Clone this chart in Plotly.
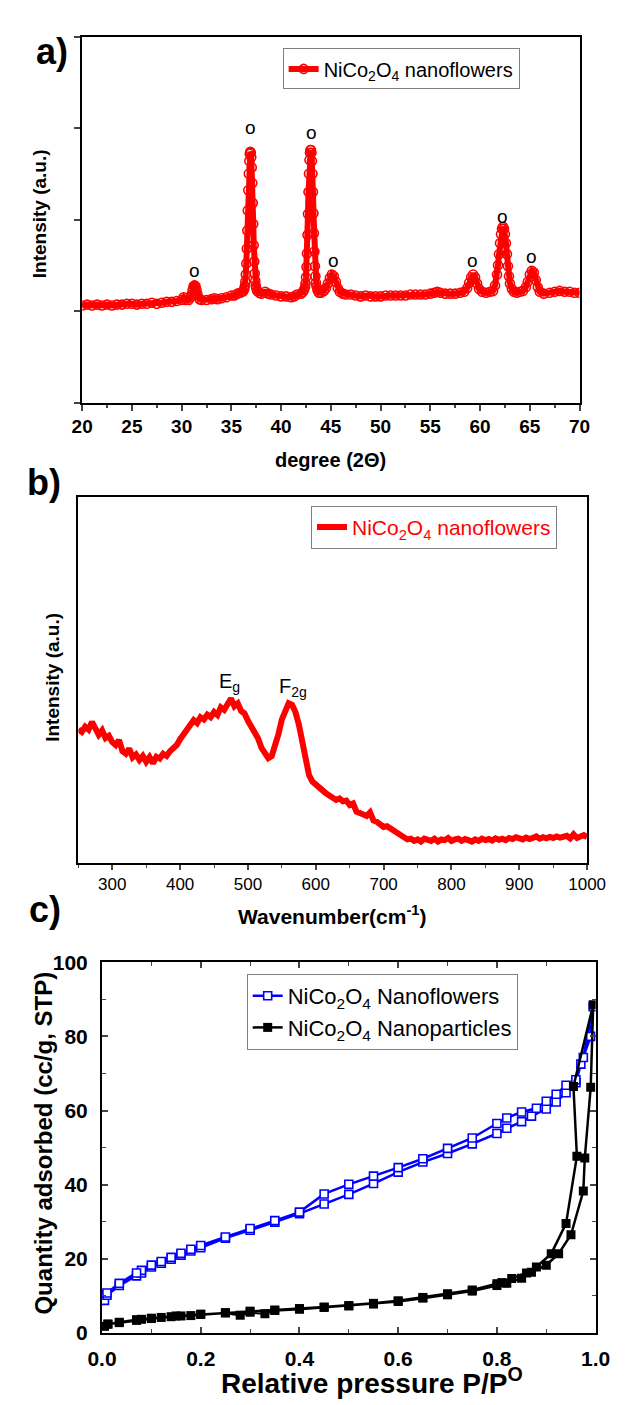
import plotly.graph_objects as go

# ---------------- (a) XRD pattern ----------------
xrd_2theta = [
    20.0, 20.5, 21.0, 21.5, 22.0, 22.5, 23.0, 23.5, 24.0, 24.5, 25.0, 25.5, 26.0, 26.5,
    27.0, 27.5, 28.0, 28.5, 29.0, 29.5, 30.0, 30.2, 30.4, 30.7, 30.9, 31.0, 31.1, 31.2,
    31.3, 31.4, 31.5, 31.6, 31.8, 32.0, 32.5, 33.0, 33.3, 33.6, 34.0, 34.5, 35.0, 35.3,
    35.6, 35.9, 36.1, 36.2, 36.30, 36.35, 36.40, 36.45, 36.50, 36.55, 36.60, 36.65,
    36.70, 36.75, 36.80, 36.85, 36.90, 36.95, 37.00, 37.05, 37.10, 37.15, 37.20, 37.25,
    37.30, 37.35, 37.40, 37.45, 37.50, 37.60, 37.8, 38.0, 38.4, 38.7, 39.0, 39.5, 40.0,
    40.5, 41.0, 41.3, 41.6, 42.0, 42.2, 42.3, 42.40, 42.45, 42.50, 42.55, 42.60, 42.65,
    42.70, 42.75, 42.80, 42.85, 42.90, 42.95, 43.00, 43.05, 43.10, 43.15, 43.20, 43.25,
    43.30, 43.35, 43.40, 43.45, 43.50, 43.55, 43.65, 43.8, 44.0, 44.3, 44.5, 44.7, 44.9,
    45.1, 45.3, 45.5, 45.7, 45.9, 46.2, 46.5, 47.0, 47.5, 48.0, 48.5, 49.0, 49.5, 50.0,
    50.5, 51.0, 51.5, 52.0, 52.5, 53.0, 53.5, 54.0, 54.5, 55.0, 55.4, 55.7, 56.0, 56.5,
    57.0, 57.5, 58.0, 58.4, 58.7, 58.9, 59.1, 59.3, 59.5, 59.7, 59.9, 60.2, 60.6, 61.0,
    61.3, 61.5, 61.7, 61.8, 61.9, 62.0, 62.1, 62.2, 62.3, 62.4, 62.5, 62.6, 62.7, 62.8,
    62.9, 63.0, 63.2, 63.4, 63.7, 64.0, 64.3, 64.6, 64.8, 65.0, 65.2, 65.4, 65.6, 65.8,
    66.0, 66.4, 67.0, 67.5, 68.0, 68.5, 69.0, 69.5, 70.0,
]
xrd_intensity = [
    1.06, 1.07, 1.06, 1.07, 1.06, 1.07, 1.06, 1.07, 1.07, 1.08, 1.08, 1.07, 1.08, 1.08,
    1.09, 1.08, 1.09, 1.10, 1.10, 1.11, 1.12, 1.15, 1.12, 1.12, 1.15, 1.18, 1.23, 1.27,
    1.28, 1.27, 1.23, 1.18, 1.13, 1.12, 1.12, 1.13, 1.14, 1.13, 1.14, 1.15, 1.17, 1.17,
    1.19, 1.20, 1.21, 1.22, 1.24, 1.27, 1.32, 1.40, 1.52, 1.68, 1.88, 2.10,
    2.32, 2.50, 2.64, 2.72, 2.74, 2.73, 2.68, 2.57, 2.40, 2.18, 1.95, 1.72,
    1.54, 1.41, 1.33, 1.28, 1.25, 1.22, 1.20, 1.19, 1.21, 1.19, 1.18, 1.17, 1.16,
    1.16, 1.15, 1.16, 1.18, 1.19, 1.21, 1.23, 1.26, 1.30, 1.37, 1.48, 1.63, 1.83,
    2.06, 2.30, 2.50, 2.65, 2.73, 2.76, 2.76, 2.73, 2.64, 2.50, 2.30, 2.07,
    1.85, 1.65, 1.49, 1.38, 1.31, 1.27, 1.23, 1.20, 1.20, 1.22, 1.25, 1.30, 1.36,
    1.40, 1.38, 1.32, 1.25, 1.21, 1.19, 1.18, 1.18, 1.17, 1.16, 1.17, 1.16, 1.16, 1.16,
    1.17, 1.17, 1.17, 1.17, 1.17, 1.18, 1.18, 1.18, 1.18, 1.19, 1.20, 1.21, 1.20, 1.19,
    1.19, 1.19, 1.20, 1.21, 1.25, 1.31, 1.37, 1.40, 1.37, 1.30, 1.24, 1.21, 1.20, 1.21,
    1.22, 1.28, 1.40, 1.50, 1.62, 1.74, 1.84, 1.90, 1.92, 1.90, 1.84, 1.74, 1.62, 1.49,
    1.38, 1.30, 1.24, 1.21, 1.20, 1.21, 1.22, 1.26, 1.32, 1.40, 1.44, 1.42, 1.34, 1.26,
    1.21, 1.19, 1.20, 1.21, 1.22, 1.21, 1.21, 1.20, 1.20,
]
# reflections marked with a circle symbol above each peak
xrd_mark_2theta = [31.3, 36.9, 43.1, 45.3, 59.2, 62.3, 65.2]
xrd_mark_height = [1.44, 3.01, 2.95, 1.55, 1.55, 2.03, 1.60]
xrd_xticks = [20, 25, 30, 35, 40, 45, 50, 55, 60, 65, 70]

# ---------------- (b) Raman spectrum ----------------
raman_shift = [
    250, 255, 260, 265, 270, 275, 280, 285, 290, 295, 300, 305, 310, 315, 320, 325,
    330, 335, 340, 345, 350, 355, 360, 365, 370, 375, 380, 385, 390, 395, 400, 405,
    410, 415, 420, 425, 430, 435, 440, 445, 450, 455, 460, 465, 470, 475, 480, 485,
    490, 495, 500, 505, 510, 515, 520, 525, 530, 535, 540, 545, 550, 555, 560, 565,
    570, 575, 580, 585, 590, 595, 600, 605, 610, 615, 620, 625, 630, 635, 640, 645,
    650, 655, 660, 665, 670, 675, 680, 685, 690, 695, 700, 705, 710, 715, 720, 725,
    730, 735, 740, 745, 750, 755, 760, 765, 770, 775, 780, 785, 790, 795, 800, 805,
    810, 815, 820, 825, 830, 835, 840, 845, 850, 855, 860, 865, 870, 875, 880, 885,
    890, 895, 900, 905, 910, 915, 920, 925, 930, 935, 940, 945, 950, 955, 960, 965,
    970, 975, 980, 985, 990, 995, 1000,
]
raman_intensity = [
    0.365, 0.358, 0.372, 0.364, 0.385, 0.366, 0.350, 0.362, 0.341, 0.347, 0.330, 0.322,
    0.335, 0.305, 0.298, 0.312, 0.288, 0.296, 0.281, 0.292, 0.276, 0.289, 0.272, 0.290,
    0.285, 0.298, 0.292, 0.305, 0.312, 0.322, 0.338, 0.352, 0.368, 0.376, 0.390, 0.382,
    0.398, 0.392, 0.405, 0.398, 0.412, 0.404, 0.425, 0.418, 0.432, 0.449, 0.428, 0.436,
    0.415, 0.408, 0.388, 0.372, 0.356, 0.340, 0.314, 0.298, 0.286, 0.292, 0.318, 0.352,
    0.392, 0.420, 0.436, 0.432, 0.412, 0.378, 0.328, 0.280, 0.240, 0.222, 0.212, 0.204,
    0.198, 0.190, 0.184, 0.178, 0.172, 0.176, 0.168, 0.170, 0.158, 0.162, 0.140, 0.136,
    0.132, 0.128, 0.138, 0.116, 0.112, 0.104, 0.098, 0.100, 0.094, 0.092, 0.086, 0.078,
    0.070, 0.064, 0.066, 0.060, 0.064, 0.058, 0.066, 0.062, 0.060, 0.066, 0.058, 0.064,
    0.062, 0.068, 0.060, 0.064, 0.066, 0.060, 0.065, 0.062, 0.058, 0.064, 0.060, 0.066,
    0.062, 0.065, 0.061, 0.067, 0.063, 0.066, 0.062, 0.068, 0.065, 0.070, 0.066, 0.064,
    0.069, 0.065, 0.068, 0.072, 0.066, 0.070, 0.067, 0.071, 0.068, 0.072, 0.069, 0.070,
    0.074, 0.067, 0.078, 0.068, 0.072, 0.076, 0.070,
]
raman_modes = ["E<sub>g</sub>", "F<sub>2g</sub>"]
raman_mode_shift = [473, 567]
raman_mode_height = [0.492, 0.478]

# ---------------- (c) N2 sorption isotherms ----------------
flower_ads_p = [0.005, 0.01, 0.035, 0.07, 0.08, 0.10, 0.12, 0.14, 0.16, 0.18, 0.20, 0.25,
                0.30, 0.35, 0.40, 0.45, 0.50, 0.55, 0.60, 0.65, 0.70, 0.75, 0.80, 0.82,
                0.85, 0.87, 0.90, 0.92, 0.94, 0.96, 0.97, 0.99, 0.995]
flower_ads_q = [8.8, 10.2, 12.8, 15.4, 16.2, 17.8, 18.8, 19.9, 21.0, 22.1, 23.0, 25.6,
                27.7, 29.9, 32.2, 34.8, 37.4, 40.3, 43.4, 46.1, 48.4, 51.0, 53.8, 55.2,
                57.0, 58.5, 60.4, 62.3, 64.8, 67.5, 72.5, 80.0, 88.0]
flower_des_p = [0.975, 0.96, 0.94, 0.92, 0.90, 0.88, 0.85, 0.82, 0.80, 0.75, 0.70, 0.65,
                0.60, 0.55, 0.50, 0.45, 0.40, 0.35, 0.30, 0.25, 0.20, 0.18, 0.16, 0.14,
                0.12, 0.10, 0.08, 0.07, 0.035, 0.01]
flower_des_q = [74.3, 68.3, 66.8, 64.4, 62.5, 60.6, 59.6, 58.0, 56.5, 52.6, 49.8, 47.0,
                44.6, 42.3, 40.1, 37.5, 32.6, 30.3, 28.2, 25.9, 23.6, 22.6, 21.5, 20.4,
                19.3, 18.3, 16.9, 16.2, 13.4, 10.8]

particle_ads_p = [0.005, 0.012, 0.035, 0.07, 0.08, 0.10, 0.12, 0.14, 0.16, 0.18, 0.20,
                  0.25, 0.28, 0.30, 0.33, 0.35, 0.40, 0.45, 0.50, 0.55, 0.60, 0.65, 0.70,
                  0.75, 0.80, 0.82, 0.85, 0.87, 0.90, 0.925, 0.95, 0.975, 0.978, 0.99,
                  0.995]
particle_ads_q = [1.8, 2.4, 2.8, 3.4, 3.7, 3.9, 4.2, 4.4, 4.6, 4.7, 5.0,
                  5.4, 4.8, 5.6, 5.2, 6.1, 6.4, 6.9, 7.3, 7.8, 8.5, 9.4, 10.3,
                  11.3, 12.8, 13.4, 14.8, 16.4, 18.3, 21.4, 26.5, 38.3, 47.2, 66.3,
                  88.5]
particle_des_p = [0.955, 0.962, 0.94, 0.91, 0.88, 0.86, 0.83, 0.81, 0.80, 0.75, 0.70,
                  0.65, 0.60, 0.55, 0.50, 0.45, 0.40, 0.35, 0.30, 0.25, 0.20, 0.15,
                  0.10, 0.07, 0.035, 0.012]
particle_des_q = [66.5, 47.7, 29.5, 21.4, 17.8, 16.2, 14.7, 13.6, 13.3, 11.6, 10.6,
                  9.6, 8.7, 8.0, 7.4, 7.0, 6.6, 6.2, 5.9, 5.5, 5.1, 4.6,
                  4.0, 3.6, 2.9, 2.4]

# ---------------- page geometry (pixels) ----------------
W, H = 626, 1405
FONT = "Liberation Sans, Arial, Helvetica, sans-serif"


def fx(px):
    return px / W


def fy(py):
    return 1 - py / H


# plot boxes: left, right, top, bottom
box_a = (71, 597, 25, 397)
box_b = (67, 605, 493, 865)
box_c = (92, 614, 966, 1343)

fig = go.Figure()

fig.add_trace(go.Scatter(
    x=xrd_2theta, y=xrd_intensity, mode="lines+markers",
    name="NiCo<sub>2</sub>O<sub>4</sub> nanoflowers",
    line=dict(color="#ff0000", width=6),
    marker=dict(symbol="circle-open", size=9, color="#ff0000", line=dict(width=1.6)),
    xaxis="x", yaxis="y", legend="legend",
))

fig.add_trace(go.Scatter(
    x=raman_shift, y=raman_intensity, mode="lines",
    name="NiCo<sub>2</sub>O<sub>4</sub> nanoflowers",
    line=dict(color="#ff0000", width=6),
    xaxis="x2", yaxis="y2", legend="legend2",
))

fig.add_trace(go.Scatter(
    x=flower_ads_p + flower_des_p, y=flower_ads_q + flower_des_q, mode="lines+markers",
    name="NiCo<sub>2</sub>O<sub>4</sub> Nanoflowers",
    line=dict(color="#0000ff", width=2.5),
    marker=dict(symbol="square", size=8, color="white", line=dict(color="#0000ff", width=1.6)),
    xaxis="x3", yaxis="y3", legend="legend3",
))

fig.add_trace(go.Scatter(
    x=particle_ads_p + particle_des_p, y=particle_ads_q + particle_des_q,
    mode="lines+markers",
    name="NiCo<sub>2</sub>O<sub>4</sub> Nanoparticles",
    line=dict(color="#000000", width=2.5),
    marker=dict(symbol="square", size=9, color="#000000"),
    xaxis="x3", yaxis="y3", legend="legend3",
))

axis_common = dict(showline=True, linecolor="black", linewidth=2, mirror=True,
                   showgrid=False, zeroline=False)

annotations = []
for px_, h_ in zip(xrd_mark_2theta, xrd_mark_height):
    annotations.append(dict(x=px_, y=h_, xref="x", yref="y", text="o", showarrow=False,
                            font=dict(family=FONT, size=19, color="black")))
for t_, s_, h_ in zip(raman_modes, raman_mode_shift, raman_mode_height):
    annotations.append(dict(x=s_, y=h_, xref="x2", yref="y2", text=t_, showarrow=False,
                            font=dict(family=FONT, size=20, color="black")))


def label(text, px, py, size, angle=0):
    annotations.append(dict(x=fx(px), y=fy(py), xref="paper", yref="paper", text=text,
                            showarrow=False, textangle=angle, xanchor="center",
                            yanchor="middle", font=dict(family=FONT, size=size, color="black")))


# panel letters
label("<b>a)</b>", 39, 40, 36)
label("<b>b)</b>", 31, 478, 36)
label("<b>c)</b>", 32, 912, 36)
# axis titles
label("<b>degree (2\u0398)</b>", 334, 455, 20)
label("<b>Intensity (a.u.)</b>", 26, 205, 19, -90)
label("<b>Wavenumber(cm<sup>-1</sup>)</b>", 336, 918, 21)
label("<b>Intensity (a.u.)</b>", 40, 676, 19, -90)
label("<b>Relative pressure P/P<sup>O</sup></b>", 378, 1392, 28)
label("<b>Quantity adsorbed (cc/g, STP)</b>", 30, 1150, 24, -90)

legend_common = dict(xanchor="left", yanchor="top", bgcolor="white",
                     bordercolor="#808080", borderwidth=1)

fig.update_layout(
    width=W, height=H, margin=dict(l=0, r=0, t=0, b=0),
    paper_bgcolor="white", plot_bgcolor="white",
    font=dict(family=FONT, color="black"),
    xaxis=dict(axis_common, domain=[fx(box_a[0]), fx(box_a[1])], range=[20, 70],
               tickvals=xrd_xticks, ticks="outside", ticklen=6, tickwidth=2,
               tickfont=dict(size=19, weight="bold"),
               minor=dict(dtick=2.5, ticks="outside", ticklen=3, tickwidth=1.5)),
    yaxis=dict(axis_common, domain=[fy(box_a[3]), fy(box_a[2])], range=[0, 4],
               dtick=1, ticks="outside", ticklen=6, tickwidth=2, showticklabels=False),
    xaxis2=dict(axis_common, anchor="y2", domain=[fx(box_b[0]), fx(box_b[1])],
                range=[250, 1000], dtick=100, tick0=0, ticks="outside", ticklen=5,
                tickwidth=1.5, tickfont=dict(size=17),
                minor=dict(dtick=50, ticks="outside", ticklen=3, tickwidth=1.2)),
    yaxis2=dict(axis_common, anchor="x2", domain=[fy(box_b[3]), fy(box_b[2])],
                range=[0, 1], showticklabels=False, ticks=""),
    xaxis3=dict(axis_common, anchor="y3", domain=[fx(box_c[0]), fx(box_c[1])],
                range=[0, 1], dtick=0.2, tickformat=".1f", ticks="inside", ticklen=6,
                tickwidth=1.5, tickfont=dict(size=21, weight="bold"),
                ticklabelstandoff=6, mirror="ticks",
                minor=dict(dtick=0.1, ticks="inside", ticklen=4, tickwidth=1.2)),
    yaxis3=dict(axis_common, anchor="x3", domain=[fy(box_c[3]), fy(box_c[2])],
                range=[0, 100], dtick=20, ticks="inside", ticklen=6, tickwidth=1.5,
                tickfont=dict(size=21, weight="bold"), ticklabelstandoff=8,
                mirror="ticks",
                minor=dict(dtick=10, ticks="inside", ticklen=4, tickwidth=1.2)),
    legend=dict(legend_common, x=fx(283), y=fy(37),
                font=dict(family=FONT, size=20, color="black")),
    legend2=dict(legend_common, x=fx(313), y=fy(502),
                 font=dict(family=FONT, size=21, color="#ff0000")),
    legend3=dict(legend_common, x=fx(245), y=fy(978),
                 font=dict(family=FONT, size=22, color="black")),
    annotations=annotations,
    showlegend=True,
)

fig.write_html("out.html")
